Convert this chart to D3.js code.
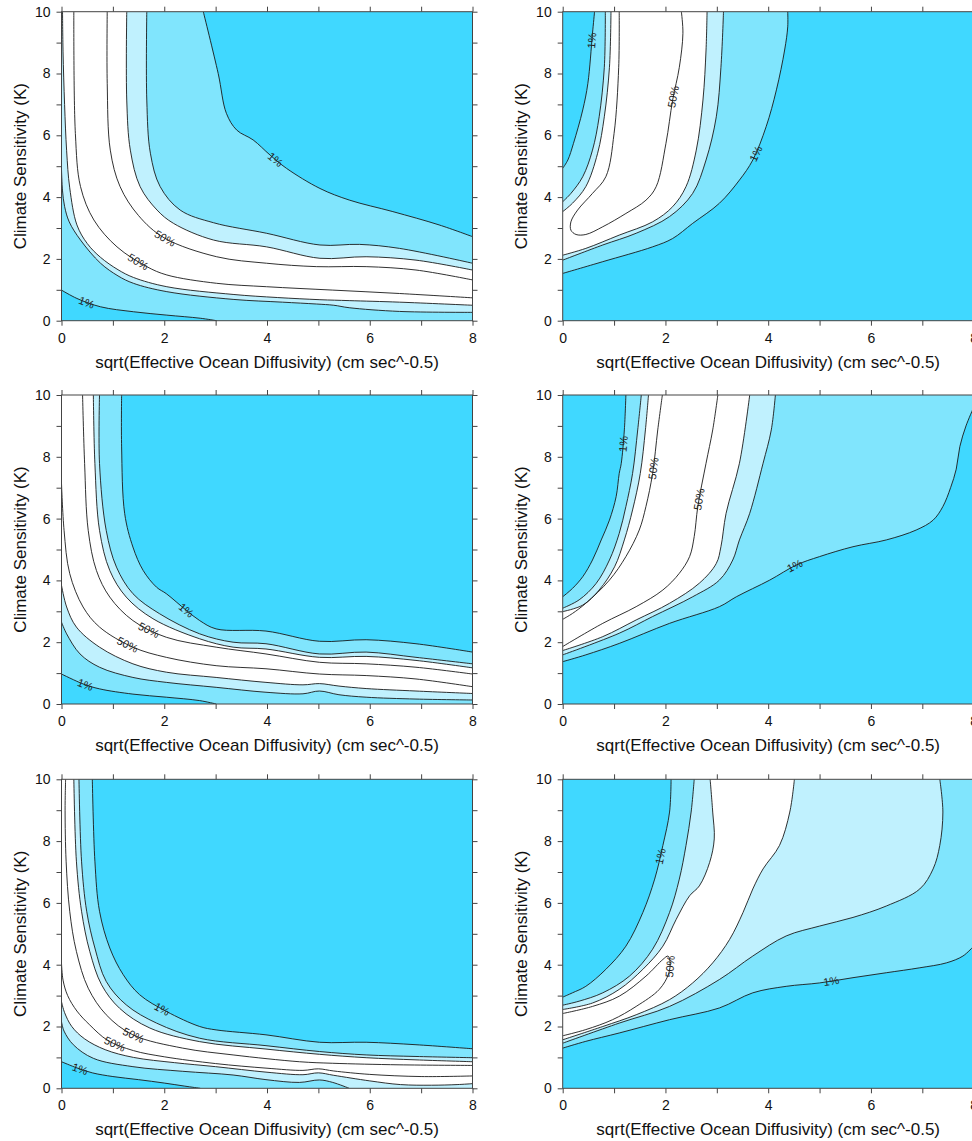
<!DOCTYPE html>
<html>
<head>
<meta charset="utf-8">
<script src="https://cdnjs.cloudflare.com/ajax/libs/d3/7.8.5/d3.min.js"></script>
<style>
body { margin: 0; background: #fff; }
svg { display: block; font-family: "Liberation Sans", Arial, sans-serif; }
</style>
</head>
<body>
<svg id="chart" width="972" height="1141"></svg>
<script>
// axis values
var xTicks = [0, 1, 2, 3, 4, 5, 6, 7, 8];
var yTicks = [0, 1, 2, 3, 4, 5, 6, 7, 8, 9, 10];
var xLabelTicks = [0, 2, 4, 6, 8];
var yLabelTicks = [0, 2, 4, 6, 8, 10];
var xTitle = "sqrt(Effective Ocean Diffusivity) (cm sec^-0.5)";
var yTitle = "Climate Sensitivity (K)";

// contour lines, [diffusivity, sensitivity]
// panel 1 (top left)
var p1_u1 = [[2.76,10],[3.05,8.0],[3.21,6.71],[3.41,6.17],[3.73,5.85],[4.06,5.36],[4.38,4.93],[5.03,4.28],[5.61,3.9],[6.45,3.53],[7.35,3.1],[8,2.72]];
var p1_u2 = [[1.66,10],[1.66,7.14],[1.73,5.42],[1.92,4.34],[2.31,3.58],[2.96,3.17],[3.99,2.83],[5.03,2.45],[5.8,2.47],[6.58,2.34],[8,1.86]];
var p1_u3 = [[1.27,10],[1.27,7.14],[1.34,5.52],[1.53,4.34],[1.86,3.58],[2.18,3.15],[2.96,2.61],[3.99,2.39],[5.03,2.02],[5.93,2.07],[6.9,1.96],[8,1.64]];
var p1_u4 = [[0.89,10],[0.89,7.68],[0.95,5.52],[1.14,4.34],[1.5,3.4],[2.0,2.68],[3.02,2.07],[3.99,1.86],[4.96,1.75],[5.93,1.75],[6.9,1.64],[8,1.32]];
var p1_l4 = [[0.24,10],[0.27,6.06],[0.37,4.34],[0.63,3.26],[1.08,2.39],[1.66,1.75],[2.05,1.48],[3.02,1.21],[3.99,1.1],[5.28,0.99],[6.58,0.88],[8,0.74]];
var p1_l3 = [[0.02,10],[0.03,8.7],[0.06,7],[0.1,5.5],[0.16,4.3],[0.3,3.1],[0.5,2.5],[0.76,2.05],[1.1,1.65],[1.4,1.4],[2.05,1.1],[3.34,0.85],[4.2,0.75],[5.03,0.68],[5.6,0.65],[6.58,0.6],[8,0.5]];
var p1_l2 = [[0,4.9],[0.02,4.2],[0.06,3.7],[0.15,3.2],[0.37,2.61],[0.76,1.86],[1.1,1.45],[1.4,1.21],[2.05,0.94],[3.34,0.69],[4.3,0.6],[4.96,0.54],[5.3,0.5],[5.6,0.42],[6.58,0.3],[8,0.27]];
var p1_l1 = [[0,0.99],[0.3,0.72],[0.76,0.45],[1.4,0.29],[2.05,0.18],[2.7,0.08],[3.02,0]];
var p1_labels = [["1%","u1",4.15,5.2],["50%","u4",2.0,2.62],["50%","l4",1.46,1.8],["1%","l1",0.49,0.61]];

// panel 2 (top right)
var p2_a1 = [[0.62,10],[0.58,9.3],[0.49,7.68],[0.39,6.82],[0.21,5.74],[0.1,5.2],[0,4.93]];
var p2_a2 = [[0.83,10],[0.81,8.2],[0.71,6.6],[0.58,5.52],[0.39,4.66],[0.16,4.12],[0,3.85]];
var p2_a3 = [[0.94,10],[0.91,8.2],[0.81,6.6],[0.68,5.42],[0.45,4.34],[0.19,3.8],[0,3.53]];
var p2_m = [[1.1,10],[1.09,8.2],[1.0,6.06],[0.84,4.66],[0.58,4.12],[0.29,3.58],[0.16,3.2],[0.16,2.93],[0.26,2.79],[0.45,2.79],[0.78,3.04],[1.23,3.47],[1.62,3.9],[1.82,4.34],[2.01,5.74],[2.14,7.14],[2.27,8.2],[2.34,9.3],[2.31,10]];
var p2_b3 = [[0,2.12],[0.45,2.34],[1.1,2.77],[1.75,3.2],[2.14,3.69],[2.4,4.34],[2.6,5.52],[2.73,7.14],[2.79,8.76],[2.81,10]];
var p2_b2 = [[0,1.96],[0.78,2.45],[1.43,2.83],[2.08,3.37],[2.53,4.12],[2.79,5.2],[2.99,6.6],[3.08,8.2],[3.13,10]];
var p2_b1 = [[0,1.53],[0.78,1.91],[1.75,2.39],[2.14,2.66],[2.53,3.15],[3.05,3.8],[3.44,4.55],[3.7,5.2],[3.96,6.28],[4.16,7.47],[4.32,8.76],[4.38,9.51],[4.38,10]];
var p2_labels = [["1%","a1",0.51,9.08],["50%","m",2.18,7.23],["1%","b1",3.67,5.47]];

// panel 3 (middle left)
var p3_u1 = [[1.17,10],[1.17,8.32],[1.23,6.16],[1.39,5.08],[1.59,4.32],[1.85,3.78],[2.04,3.57],[2.43,3.03],[2.69,2.7],[3.01,2.43],[3.98,2.36],[5.02,2.03],[5.93,2.08],[6.9,1.95],[8,1.68]];
var p3_u2 = [[0.74,10],[0.74,7.78],[0.87,5.62],[1.07,4.43],[1.39,3.57],[1.91,2.92],[2.69,2.27],[3.34,2.0],[3.98,1.95],[5.02,1.62],[5.93,1.68],[6.9,1.51],[8,1.3]];
var p3_u3 = [[0.62,10],[0.65,7.78],[0.74,5.62],[0.94,4.32],[1.26,3.46],[1.78,2.76],[2.69,2.11],[3.34,1.84],[3.98,1.78],[5.02,1.51],[5.93,1.54],[6.9,1.41],[8,1.17]];
var p3_u4 = [[0.41,10],[0.45,7.78],[0.52,5.62],[0.68,4.32],[0.94,3.46],[1.39,2.7],[2.04,2.16],[3.01,1.84],[3.98,1.62],[5.02,1.35],[5.93,1.3],[6.9,1.19],[8,0.97]];
var p3_l4 = [[0,7.14],[0.05,5.62],[0.16,4.22],[0.42,3.14],[0.74,2.49],[1.39,1.84],[2.04,1.51],[3.01,1.24],[3.98,1.14],[5.02,0.97],[5.93,0.92],[6.9,0.81],[8,0.56]];
var p3_l3 = [[0,3.84],[0.1,3.14],[0.29,2.49],[0.74,1.84],[1.39,1.3],[2.04,1.03],[3.01,0.86],[3.98,0.7],[4.7,0.62],[5.02,0.66],[5.4,0.58],[5.93,0.5],[6.9,0.42],[8,0.34]];
var p3_l2 = [[0,2.65],[0.1,2.27],[0.36,1.62],[0.74,1.19],[1.39,0.86],[2.04,0.7],[3.01,0.54],[3.98,0.38],[4.7,0.33],[5.02,0.42],[5.4,0.3],[5.93,0.22],[6.9,0.16],[8,0.13]];
var p3_l1 = [[0,0.97],[0.42,0.65],[0.74,0.49],[1.39,0.32],[2.04,0.22],[2.69,0.11],[3.01,0]];
var p3_labels = [["1%","u1",2.44,3.07],["50%","u4",1.63,2.16],["50%","l4",1.18,1.56],["1%","l1",0.47,0.63]];

// panel 4 (middle right)
var p4_a1 = [[1.23,10],[1.2,8.87],[1.14,7.79],[1.1,7.46],[1.04,6.71],[0.91,5.95],[0.75,5.31],[0.58,4.66],[0.39,4.12],[0.19,3.74],[0,3.47]];
var p4_a2 = [[1.53,10],[1.46,8.87],[1.36,7.46],[1.23,6.39],[1.1,5.52],[0.91,4.66],[0.65,3.9],[0.32,3.37],[0,3.1]];
var p4_a3 = [[1.67,10],[1.61,8.87],[1.51,7.46],[1.36,6.28],[1.2,5.31],[1.01,4.44],[0.71,3.69],[0.39,3.2],[0,2.99]];
var p4_a4 = [[1.94,10],[1.85,8.87],[1.75,7.46],[1.62,6.39],[1.49,5.63],[1.23,4.77],[0.91,4.01],[0.45,3.26],[0.19,2.93],[0,2.74]];
var p4_b4 = [[3.02,10],[2.92,8.87],[2.79,7.79],[2.63,6.39],[2.56,5.42],[2.47,4.77],[2.27,4.23],[1.95,3.69],[1.43,3.15],[0.78,2.61],[0,1.86]];
var p4_b3 = [[0,1.73],[0.78,2.18],[1.43,2.72],[2.08,3.26],[2.66,3.91],[2.99,4.55],[3.08,5.09],[3.18,6.17],[3.44,7.79],[3.64,10]];
var p4_b2 = [[0,1.59],[1.1,2.29],[1.75,2.83],[2.53,3.47],[3.05,4.01],[3.31,4.66],[3.44,5.31],[3.64,6.17],[3.9,7.79],[4.06,8.87],[4.14,10]];
var p4_b1 = [[0,1.37],[0.45,1.59],[1.1,1.96],[2.08,2.61],[3.05,3.15],[3.38,3.47],[4.03,4.01],[4.55,4.5],[5.0,4.77],[5.65,5.09],[6.3,5.31],[6.88,5.63],[7.21,5.95],[7.4,6.39],[7.55,7.0],[7.66,7.6],[7.73,8.33],[7.85,9.0],[8,9.6]];
var p4_labels = [["1%","a1",1.1,8.44],["50%","a4",1.72,7.63],["50%","b4",2.53,6.66],["1%","b1",4.51,4.5]];

// panel 5 (bottom left)
var p5_u1 = [[0.6,10],[0.65,7.35],[0.74,5.73],[0.94,4.54],[1.2,3.68],[1.52,3.03],[2.04,2.49],[2.69,2.0],[3.01,1.89],[3.98,1.73],[5.02,1.49],[5.93,1.49],[6.9,1.41],[8,1.28]];
var p5_u2 = [[0.34,10],[0.39,7.35],[0.49,5.73],[0.65,4.54],[0.87,3.46],[1.26,2.7],[1.85,2.11],[2.69,1.62],[3.98,1.38],[5.02,1.19],[5.93,1.08],[6.9,1.03],[8,0.99]];
var p5_u3 = [[0.24,10],[0.29,7.35],[0.39,5.73],[0.55,4.43],[0.78,3.35],[1.13,2.59],[1.72,1.95],[2.69,1.51],[3.98,1.27],[5.02,1.1],[5.93,0.99],[6.9,0.92],[8,0.86]];
var p5_u4 = [[0.08,10],[0.07,9],[0.09,7.35],[0.16,5.73],[0.29,4.43],[0.52,3.24],[0.87,2.38],[1.39,1.73],[2.36,1.3],[3.34,1.08],[4.63,0.86],[5.28,0.81],[6.57,0.76],[8,0.74]];
var p5_l4 = [[0,4.05],[0.03,3.5],[0.12,3.0],[0.3,2.5],[0.55,2.05],[0.9,1.55],[1.4,1.22],[2.0,1.02],[3.0,0.8],[4.0,0.65],[4.7,0.58],[5.0,0.63],[5.3,0.56],[6.0,0.45],[7.0,0.38],[8,0.4]];
var p5_l3 = [[0,2.8],[0.06,2.45],[0.2,2.0],[0.45,1.6],[0.85,1.25],[1.4,1.0],[2.2,0.83],[3.0,0.7],[4.0,0.52],[4.7,0.44],[5.0,0.5],[5.3,0.42],[6.0,0.24],[6.6,0.12],[7.2,0.1],[7.7,0.12],[8,0.15]];
var p5_l2 = [[0,2.15],[0.05,1.85],[0.23,1.41],[0.62,0.97],[1.39,0.7],[2.36,0.55],[3.34,0.43],[3.98,0.28],[4.63,0.19],[5.02,0.27],[5.28,0.19],[5.6,0]];
var p5_l1 = [[0,0.86],[0.3,0.66],[0.6,0.5],[1.0,0.38],[1.5,0.28],[2.0,0.17],[2.4,0.07],[2.7,0]];
var p5_labels = [["1%","u1",1.95,2.52],["50%","u4",1.41,1.73],["50%","l4",1.02,1.35],["1%","l1",0.37,0.65]];

// panel 6 (bottom right)
var p6_a1 = [[2.11,10],[2.08,8.94],[1.95,7.86],[1.79,6.77],[1.56,5.69],[1.23,4.6],[0.84,3.85],[0.45,3.3],[0.19,3.09],[0,2.95]];
var p6_a2 = [[2.56,10],[2.5,8.94],[2.4,7.86],[2.27,6.77],[2.08,5.69],[1.75,4.5],[1.3,3.63],[0.78,3.09],[0.32,2.82],[0,2.69]];
var p6_a3 = [[2.87,10],[2.92,8.94],[2.95,8.07],[2.86,7.31],[2.66,6.55],[2.47,6.23],[2.21,5.47],[1.95,4.6],[1.56,3.85],[1.1,3.2],[0.58,2.76],[0,2.55]];
var p6_m = [[0,2.42],[0.58,2.65],[1.1,2.98],[1.62,3.63],[1.95,4.17],[2.05,4.28],[2.09,4.1],[2.06,3.7],[1.88,3.2],[1.43,2.65],[0.97,2.22],[0.45,1.9],[0,1.7]];
var p6_b3 = [[0,1.57],[0.78,2.0],[1.43,2.38],[2.08,2.87],[2.53,3.41],[2.92,4.06],[3.25,4.82],[3.51,5.69],[3.7,6.45],[3.9,7.1],[4.22,7.86],[4.42,8.94],[4.51,10]];
var p6_b2 = [[0,1.46],[1.1,2.11],[2.08,2.65],[3.05,3.52],[3.7,4.28],[4.35,4.93],[5.0,5.25],[5.65,5.53],[6.3,5.9],[6.95,6.45],[7.21,7.1],[7.34,7.86],[7.4,8.94],[7.34,10]];
var p6_b1 = [[0,1.3],[0.45,1.52],[1.1,1.79],[2.08,2.22],[3.05,2.6],[3.7,3.09],[4.35,3.3],[5.0,3.41],[5.65,3.58],[6.3,3.74],[6.95,3.9],[7.47,4.06],[7.79,4.28],[8,4.6]];
var p6_labels = [["1%","a1",1.85,7.53],["50%","m",2.12,3.95],["1%","b1",5.23,3.54]];

var fillColor = { dark: "#40d8ff", medium: "#80e5fd", light: "#c0f1fe" };
var colLeft = [61.5, 562.7];
var rowTop = [11.7, 395, 779.3];
var plotW = 411, plotH = 309;

// each fill closes a contour line through corners, painted from the 10% band outwards
var panels = [
  { col: 0, row: 0,
    curves: { u1: p1_u1, u2: p1_u2, u3: p1_u3, u4: p1_u4, l4: p1_l4, l3: p1_l3, l2: p1_l2, l1: p1_l1 },
    fills: [["light","u3",["tr"]],["light","l3",["br","bl","tl"]],["medium","u2",["tr"]],["medium","l2",["br","bl"]],["dark","u1",["tr"]],["dark","l1",["bl"]]],
    labels: p1_labels },
  { col: 1, row: 0,
    curves: { a1: p2_a1, a2: p2_a2, a3: p2_a3, m: p2_m, b3: p2_b3, b2: p2_b2, b1: p2_b1 },
    fills: [["light","a3",["tl"]],["light","b3",["tr","br","bl"]],["medium","a2",["tl"]],["medium","b2",["tr","br","bl"]],["dark","a1",["tl"]],["dark","b1",["tr","br","bl"]]],
    labels: p2_labels },
  { col: 0, row: 1,
    curves: { u1: p3_u1, u2: p3_u2, u3: p3_u3, u4: p3_u4, l4: p3_l4, l3: p3_l3, l2: p3_l2, l1: p3_l1 },
    fills: [["light","u3",["tr"]],["light","l3",["br","bl"]],["medium","u2",["tr"]],["medium","l2",["br","bl"]],["dark","u1",["tr"]],["dark","l1",["bl"]]],
    labels: p3_labels },
  { col: 1, row: 1,
    curves: { a1: p4_a1, a2: p4_a2, a3: p4_a3, a4: p4_a4, b4: p4_b4, b3: p4_b3, b2: p4_b2, b1: p4_b1 },
    fills: [["light","a3",["tl"]],["light","b3",["tr","br","bl"]],["medium","a2",["tl"]],["medium","b2",["tr","br","bl"]],["dark","a1",["tl"]],["dark","b1",["br","bl"]]],
    labels: p4_labels },
  { col: 0, row: 2,
    curves: { u1: p5_u1, u2: p5_u2, u3: p5_u3, u4: p5_u4, l4: p5_l4, l3: p5_l3, l2: p5_l2, l1: p5_l1 },
    fills: [["light","u3",["tr"]],["light","l3",["br","bl"]],["medium","u2",["tr"]],["medium","l2",["bl"]],["dark","u1",["tr"]],["dark","l1",["bl"]]],
    labels: p5_labels },
  { col: 1, row: 2,
    curves: { a1: p6_a1, a2: p6_a2, a3: p6_a3, m: p6_m, b3: p6_b3, b2: p6_b2, b1: p6_b1 },
    fills: [["light","a3",["tl"]],["light","b3",["tr","br","bl"]],["medium","a2",["tl"]],["medium","b2",["tr","br","bl"]],["dark","a1",["tl"]],["dark","b1",["br","bl"]]],
    labels: p6_labels }
];

var cornerPt = { tl: [0, 10], tr: [8, 10], bl: [0, 0], br: [8, 0] };
var svg = d3.select("#chart");

panels.forEach(function(pn, i) {
  var left = colLeft[pn.col], top = rowTop[pn.row];
  var x = d3.scaleLinear().domain([0, 8]).range([left, left + plotW]);
  var y = d3.scaleLinear().domain([0, 10]).range([top + plotH, top]);
  var lineGen = d3.line()
    .x(function(d) { return x(d[0]); })
    .y(function(d) { return y(d[1]); })
    .curve(d3.curveCatmullRom.alpha(0.5));

  svg.append("clipPath").attr("id", "clip" + i)
    .append("rect").attr("x", left).attr("y", top).attr("width", plotW).attr("height", plotH);

  var g = svg.append("g").attr("clip-path", "url(#clip" + i + ")");
  g.append("rect")
    .attr("x", left).attr("y", top).attr("width", plotW).attr("height", plotH)
    .attr("fill", "#fff");

  pn.fills.forEach(function(f) {
    var p = lineGen(pn.curves[f[1]]);
    f[2].forEach(function(c) {
      p += "L" + x(cornerPt[c][0]) + "," + y(cornerPt[c][1]);
    });
    g.append("path").attr("d", p + "Z").attr("fill", fillColor[f[0]]);
  });

  var nodes = {};
  Object.keys(pn.curves).forEach(function(k) {
    nodes[k] = g.append("path")
      .attr("d", lineGen(pn.curves[k]))
      .attr("fill", "none")
      .attr("stroke", "#1a1a1a")
      .attr("stroke-width", 0.9)
      .node();
  });

  // put each label on its line, turned along it
  pn.labels.forEach(function(lb) {
    var node = nodes[lb[1]], len = node.getTotalLength();
    var tx = x(lb[2]), ty = y(lb[3]), best = 0, bestD = Infinity;
    for (var s = 0; s <= len; s += 1) {
      var pt = node.getPointAtLength(s);
      var dd = (pt.x - tx) * (pt.x - tx) + (pt.y - ty) * (pt.y - ty);
      if (dd < bestD) { bestD = dd; best = s; }
    }
    var pc = node.getPointAtLength(best);
    var p0 = node.getPointAtLength(Math.max(0, best - 5));
    var p1 = node.getPointAtLength(Math.min(len, best + 5));
    var a = Math.atan2(p1.y - p0.y, p1.x - p0.x) * 180 / Math.PI;
    if (a > 90) a -= 180;
    if (a <= -90) a += 180;
    g.append("text")
      .attr("transform", "translate(" + pc.x + "," + pc.y + ") rotate(" + a + ")")
      .attr("text-anchor", "middle")
      .attr("dy", "0.35em")
      .attr("font-size", "11px")
      .attr("fill", "#222")
      .text(lb[0]);
  });

  // axes, ticks on all four sides
  var fmtX = function(d) { return xLabelTicks.indexOf(d) >= 0 ? d : ""; };
  var fmtY = function(d) { return yLabelTicks.indexOf(d) >= 0 ? d : ""; };
  var axes = [
    svg.append("g").attr("transform", "translate(0," + (top + plotH) + ")")
      .call(d3.axisBottom(x).tickValues(xTicks).tickSize(5).tickPadding(7).tickFormat(fmtX)),
    svg.append("g").attr("transform", "translate(" + left + ",0)")
      .call(d3.axisLeft(y).tickValues(yTicks).tickSize(5).tickPadding(6).tickFormat(fmtY)),
    svg.append("g").attr("transform", "translate(0," + top + ")")
      .call(d3.axisTop(x).tickValues(xTicks).tickSize(5).tickFormat("")),
    svg.append("g").attr("transform", "translate(" + (left + plotW) + ",0)")
      .call(d3.axisRight(y).tickValues(yTicks).tickSize(5).tickFormat(""))
  ];
  axes.forEach(function(ax) {
    ax.select(".domain").remove();
    ax.selectAll("line").attr("stroke", "#444");
    ax.selectAll("text").attr("font-size", "14px").attr("fill", "#111")
      .attr("font-family", "'Liberation Sans', Arial, sans-serif");
  });

  svg.append("rect")
    .attr("x", left).attr("y", top).attr("width", plotW).attr("height", plotH)
    .attr("fill", "none").attr("stroke", "#444").attr("stroke-width", 1);

  svg.append("text")
    .attr("x", left + plotW / 2).attr("y", top + plotH + 47)
    .attr("text-anchor", "middle")
    .attr("font-size", "17px").attr("fill", "#111")
    .text(xTitle);

  svg.append("text")
    .attr("transform", "translate(" + (left - 36) + "," + (top + plotH / 2) + ") rotate(-90)")
    .attr("text-anchor", "middle")
    .attr("font-size", "17px").attr("fill", "#111")
    .text(yTitle);
});
</script>
</body>
</html>
